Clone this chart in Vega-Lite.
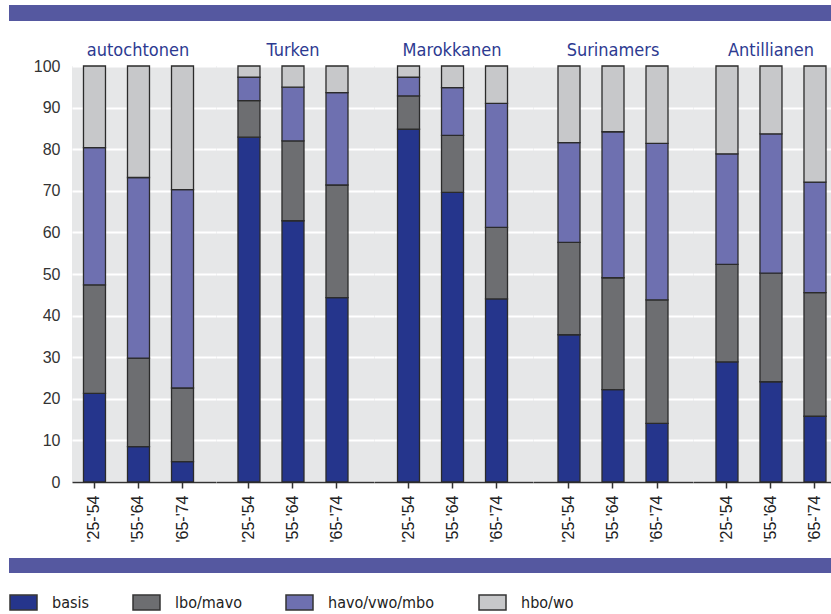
{
  "$schema": "https://vega.github.io/schema/vega-lite/v6.json",
  "padding": {"left": 9, "top": 5, "right": 0, "bottom": 0},
  "background": "white",
  "data": {"values": [
    {"groep": "autochtonen", "periode": "'25-'54", "niveau": "basis", "pct": 21.3},
    {"groep": "autochtonen", "periode": "'25-'54", "niveau": "lbo/mavo", "pct": 26.1},
    {"groep": "autochtonen", "periode": "'25-'54", "niveau": "havo/vwo/mbo", "pct": 33.0},
    {"groep": "autochtonen", "periode": "'25-'54", "niveau": "hbo/wo", "pct": 19.6},
    {"groep": "autochtonen", "periode": "'55-'64", "niveau": "basis", "pct": 8.5},
    {"groep": "autochtonen", "periode": "'55-'64", "niveau": "lbo/mavo", "pct": 21.3},
    {"groep": "autochtonen", "periode": "'55-'64", "niveau": "havo/vwo/mbo", "pct": 43.4},
    {"groep": "autochtonen", "periode": "'55-'64", "niveau": "hbo/wo", "pct": 26.8},
    {"groep": "autochtonen", "periode": "'65-'74", "niveau": "basis", "pct": 4.9},
    {"groep": "autochtonen", "periode": "'65-'74", "niveau": "lbo/mavo", "pct": 17.7},
    {"groep": "autochtonen", "periode": "'65-'74", "niveau": "havo/vwo/mbo", "pct": 47.7},
    {"groep": "autochtonen", "periode": "'65-'74", "niveau": "hbo/wo", "pct": 29.7},
    {"groep": "Turken", "periode": "'25-'54", "niveau": "basis", "pct": 82.9},
    {"groep": "Turken", "periode": "'25-'54", "niveau": "lbo/mavo", "pct": 8.8},
    {"groep": "Turken", "periode": "'25-'54", "niveau": "havo/vwo/mbo", "pct": 5.6},
    {"groep": "Turken", "periode": "'25-'54", "niveau": "hbo/wo", "pct": 2.7},
    {"groep": "Turken", "periode": "'55-'64", "niveau": "basis", "pct": 62.8},
    {"groep": "Turken", "periode": "'55-'64", "niveau": "lbo/mavo", "pct": 19.2},
    {"groep": "Turken", "periode": "'55-'64", "niveau": "havo/vwo/mbo", "pct": 12.9},
    {"groep": "Turken", "periode": "'55-'64", "niveau": "hbo/wo", "pct": 5.1},
    {"groep": "Turken", "periode": "'65-'74", "niveau": "basis", "pct": 44.3},
    {"groep": "Turken", "periode": "'65-'74", "niveau": "lbo/mavo", "pct": 27.1},
    {"groep": "Turken", "periode": "'65-'74", "niveau": "havo/vwo/mbo", "pct": 22.2},
    {"groep": "Turken", "periode": "'65-'74", "niveau": "hbo/wo", "pct": 6.4},
    {"groep": "Marokkanen", "periode": "'25-'54", "niveau": "basis", "pct": 84.8},
    {"groep": "Marokkanen", "periode": "'25-'54", "niveau": "lbo/mavo", "pct": 8.0},
    {"groep": "Marokkanen", "periode": "'25-'54", "niveau": "havo/vwo/mbo", "pct": 4.5},
    {"groep": "Marokkanen", "periode": "'25-'54", "niveau": "hbo/wo", "pct": 2.7},
    {"groep": "Marokkanen", "periode": "'55-'64", "niveau": "basis", "pct": 69.6},
    {"groep": "Marokkanen", "periode": "'55-'64", "niveau": "lbo/mavo", "pct": 13.7},
    {"groep": "Marokkanen", "periode": "'55-'64", "niveau": "havo/vwo/mbo", "pct": 11.5},
    {"groep": "Marokkanen", "periode": "'55-'64", "niveau": "hbo/wo", "pct": 5.2},
    {"groep": "Marokkanen", "periode": "'65-'74", "niveau": "basis", "pct": 44.0},
    {"groep": "Marokkanen", "periode": "'65-'74", "niveau": "lbo/mavo", "pct": 17.2},
    {"groep": "Marokkanen", "periode": "'65-'74", "niveau": "havo/vwo/mbo", "pct": 29.8},
    {"groep": "Marokkanen", "periode": "'65-'74", "niveau": "hbo/wo", "pct": 9.0},
    {"groep": "Surinamers", "periode": "'25-'54", "niveau": "basis", "pct": 35.4},
    {"groep": "Surinamers", "periode": "'25-'54", "niveau": "lbo/mavo", "pct": 22.2},
    {"groep": "Surinamers", "periode": "'25-'54", "niveau": "havo/vwo/mbo", "pct": 24.0},
    {"groep": "Surinamers", "periode": "'25-'54", "niveau": "hbo/wo", "pct": 18.4},
    {"groep": "Surinamers", "periode": "'55-'64", "niveau": "basis", "pct": 22.2},
    {"groep": "Surinamers", "periode": "'55-'64", "niveau": "lbo/mavo", "pct": 26.9},
    {"groep": "Surinamers", "periode": "'55-'64", "niveau": "havo/vwo/mbo", "pct": 35.1},
    {"groep": "Surinamers", "periode": "'55-'64", "niveau": "hbo/wo", "pct": 15.8},
    {"groep": "Surinamers", "periode": "'65-'74", "niveau": "basis", "pct": 14.1},
    {"groep": "Surinamers", "periode": "'65-'74", "niveau": "lbo/mavo", "pct": 29.7},
    {"groep": "Surinamers", "periode": "'65-'74", "niveau": "havo/vwo/mbo", "pct": 37.6},
    {"groep": "Surinamers", "periode": "'65-'74", "niveau": "hbo/wo", "pct": 18.6},
    {"groep": "Antillianen", "periode": "'25-'54", "niveau": "basis", "pct": 28.9},
    {"groep": "Antillianen", "periode": "'25-'54", "niveau": "lbo/mavo", "pct": 23.4},
    {"groep": "Antillianen", "periode": "'25-'54", "niveau": "havo/vwo/mbo", "pct": 26.6},
    {"groep": "Antillianen", "periode": "'25-'54", "niveau": "hbo/wo", "pct": 21.1},
    {"groep": "Antillianen", "periode": "'55-'64", "niveau": "basis", "pct": 24.1},
    {"groep": "Antillianen", "periode": "'55-'64", "niveau": "lbo/mavo", "pct": 26.1},
    {"groep": "Antillianen", "periode": "'55-'64", "niveau": "havo/vwo/mbo", "pct": 33.5},
    {"groep": "Antillianen", "periode": "'55-'64", "niveau": "hbo/wo", "pct": 16.3},
    {"groep": "Antillianen", "periode": "'65-'74", "niveau": "basis", "pct": 15.8},
    {"groep": "Antillianen", "periode": "'65-'74", "niveau": "lbo/mavo", "pct": 29.7},
    {"groep": "Antillianen", "periode": "'65-'74", "niveau": "havo/vwo/mbo", "pct": 26.6},
    {"groep": "Antillianen", "periode": "'65-'74", "niveau": "hbo/wo", "pct": 27.9}
  ]},
  "transform": [
    {"calculate": "indexof(['basis','lbo/mavo','havo/vwo/mbo','hbo/wo'], datum.niveau)", "as": "ord"}
  ],
  "spacing": 21,
  "vconcat": [
    {
      "width": 822, "height": 16,
      "data": {"values": []},
      "mark": "rect",
      "encoding": {},
      "view": {"fill": "#5558a0", "stroke": null}
    },
    {
      "spacing": 15,
      "vconcat": [
        {
          "spacing": 0,
          "bounds": "flush",
          "resolve": {"scale": {"x": "independent", "y": "independent"}},
          "hconcat": [
            {
              "width": 63, "height": 416,
              "view": {"fill": "white", "stroke": null},
              "transform": [{"filter": "false"}],
              "mark": "point",
              "encoding": {
                "y": {"field": "pct", "type": "quantitative", "scale": {"domain": [0, 100], "nice": false},
                  "axis": {"title": null, "grid": false, "offset": -63, "values": [0,10,20,30,40,50,60,70,80,90,100], "labelPadding": 12}}
              }
            },
            {
              "width": 144, "height": 416,
              "title": {"text": "autochtonen", "dx": -6},
              "transform": [{"filter": "datum.groep === 'autochtonen'"}],
              "mark": {"type": "bar", "stroke": "#2b2b2b", "strokeWidth": 1.3},
              "encoding": {
                "x": {"field": "periode", "type": "nominal", "scale": {"domain": ["'25-'54", "'55-'64", "'65-'74"], "paddingInner": 0.5, "paddingOuter": 0.386, "align": 0.338}, "axis": {"title": null}},
                "y": {"field": "pct", "type": "quantitative", "stack": "zero", "scale": {"domain": [0, 100], "nice": false},
                  "axis": {"title": null, "labels": false, "values": [0,10,20,30,40,50,60,70,80,90,100]}},
                "color": {"field": "niveau", "type": "nominal", "scale": {"domain": ["basis", "lbo/mavo", "havo/vwo/mbo", "hbo/wo"], "range": ["#25358c", "#6d6e71", "#6e70b0", "#c7c8ca"]}, "legend": {"title": null}},
                "order": {"field": "ord", "type": "quantitative"}
              }
            },
            {
              "width": 158, "height": 416,
              "title": {"text": "Turken", "dx": -2},
              "transform": [{"filter": "datum.groep === 'Turken'"}],
              "mark": {"type": "bar", "stroke": "#2b2b2b", "strokeWidth": 1.3},
              "encoding": {
                "x": {"field": "periode", "type": "nominal", "scale": {"domain": ["'25-'54", "'55-'64", "'65-'74"], "paddingInner": 0.5, "paddingOuter": 0.545, "align": 0.458}, "axis": {"title": null}},
                "y": {"field": "pct", "type": "quantitative", "stack": "zero", "scale": {"domain": [0, 100], "nice": false},
                  "axis": {"title": null, "labels": false, "values": [0,10,20,30,40,50,60,70,80,90,100]}},
                "color": {"field": "niveau", "type": "nominal", "scale": {"domain": ["basis", "lbo/mavo", "havo/vwo/mbo", "hbo/wo"], "range": ["#25358c", "#6d6e71", "#6e70b0", "#c7c8ca"]}, "legend": {"title": null}},
                "order": {"field": "ord", "type": "quantitative"}
              }
            },
            {
              "width": 159, "height": 416,
              "title": {"text": "Marokkanen", "dx": -1.5},
              "transform": [{"filter": "datum.groep === 'Marokkanen'"}],
              "mark": {"type": "bar", "stroke": "#2b2b2b", "strokeWidth": 1.3},
              "encoding": {
                "x": {"field": "periode", "type": "nominal", "scale": {"domain": ["'25-'54", "'55-'64", "'65-'74"], "paddingInner": 0.5, "paddingOuter": 0.557, "align": 0.48}, "axis": {"title": null}},
                "y": {"field": "pct", "type": "quantitative", "stack": "zero", "scale": {"domain": [0, 100], "nice": false},
                  "axis": {"title": null, "labels": false, "values": [0,10,20,30,40,50,60,70,80,90,100]}},
                "color": {"field": "niveau", "type": "nominal", "scale": {"domain": ["basis", "lbo/mavo", "havo/vwo/mbo", "hbo/wo"], "range": ["#25358c", "#6d6e71", "#6e70b0", "#c7c8ca"]}, "legend": {"title": null}},
                "order": {"field": "ord", "type": "quantitative"}
              }
            },
            {
              "width": 160, "height": 416,
              "title": {"text": "Surinamers", "dx": 0},
              "transform": [{"filter": "datum.groep === 'Surinamers'"}],
              "mark": {"type": "bar", "stroke": "#2b2b2b", "strokeWidth": 1.3},
              "encoding": {
                "x": {"field": "periode", "type": "nominal", "scale": {"domain": ["'25-'54", "'55-'64", "'65-'74"], "paddingInner": 0.5, "paddingOuter": 0.568, "align": 0.5}, "axis": {"title": null}},
                "y": {"field": "pct", "type": "quantitative", "stack": "zero", "scale": {"domain": [0, 100], "nice": false},
                  "axis": {"title": null, "labels": false, "values": [0,10,20,30,40,50,60,70,80,90,100]}},
                "color": {"field": "niveau", "type": "nominal", "scale": {"domain": ["basis", "lbo/mavo", "havo/vwo/mbo", "hbo/wo"], "range": ["#25358c", "#6d6e71", "#6e70b0", "#c7c8ca"]}, "legend": {"title": null}},
                "order": {"field": "ord", "type": "quantitative"}
              }
            },
            {
              "width": 138, "height": 416,
              "title": {"text": "Antillianen", "dx": 9},
              "transform": [{"filter": "datum.groep === 'Antillianen'"}],
              "mark": {"type": "bar", "stroke": "#2b2b2b", "strokeWidth": 1.3},
              "encoding": {
                "x": {"field": "periode", "type": "nominal", "scale": {"domain": ["'25-'54", "'55-'64", "'65-'74"], "paddingInner": 0.5, "paddingOuter": 0.318, "align": 0.821}, "axis": {"title": null}},
                "y": {"field": "pct", "type": "quantitative", "stack": "zero", "scale": {"domain": [0, 100], "nice": false},
                  "axis": {"title": null, "labels": false, "values": [0,10,20,30,40,50,60,70,80,90,100]}},
                "color": {"field": "niveau", "type": "nominal", "scale": {"domain": ["basis", "lbo/mavo", "havo/vwo/mbo", "hbo/wo"], "range": ["#25358c", "#6d6e71", "#6e70b0", "#c7c8ca"]}, "legend": {"title": null}},
                "order": {"field": "ord", "type": "quantitative"}
              }
            }
          ]
        },
        {
          "width": 822, "height": 15,
          "data": {"values": []},
          "mark": "rect",
          "encoding": {},
          "view": {"fill": "#5558a0", "stroke": null}
        }
      ]
    }
  ],
  "config": {
    "view": {"stroke": null, "fill": "#e6e7e8"},
    "axis": {"labelFont": "Liberation Sans, Arial, sans-serif", "labelFontSize": 16, "labelColor": "#333333"},
    "axisY": {"grid": true, "gridColor": "#ffffff", "gridWidth": 2, "ticks": false, "domain": false},
    "axisX": {"grid": false, "labelAngle": 270, "labelAlign": "right", "labelBaseline": "middle", "domainColor": "#333333", "domainWidth": 1.5, "tickColor": "#333333", "tickWidth": 1.5, "tickSize": 6, "labelPadding": 7, "labelColor": "#222222"},
    "title": {"font": "Liberation Sans Narrow, DejaVu Sans Condensed, Arial Narrow, sans-serif", "fontSize": 18, "color": "#2d3a91", "fontWeight": "normal", "anchor": "middle", "frame": "group", "baseline": "alphabetic", "offset": 5},
    "legend": {"orient": "none", "legendX": 0, "legendY": 583, "direction": "horizontal", "symbolType": "M-1,-0.55H1V0.55H-1Z", "symbolSize": 729, "symbolStrokeColor": "#333333", "symbolStrokeWidth": 1.5, "symbolOpacity": 1, "labelFont": "Liberation Sans Narrow, DejaVu Sans Condensed, Arial Narrow, sans-serif", "labelFontSize": 16, "labelColor": "#222222", "labelOffset": 14, "columnPadding": 41}
  }
}
